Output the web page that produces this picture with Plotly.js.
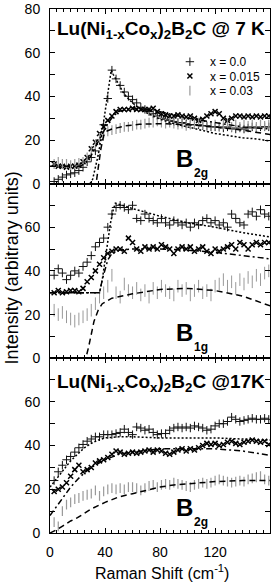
<!DOCTYPE html>
<html><head><meta charset="utf-8">
<script src="https://cdn.plot.ly/plotly-3.0.1.min.js"></script>
<style>html,body{margin:0;padding:0;background:#fff}#c{width:272px;height:586px}</style>
</head><body><div id="c"></div>
<script>
const ramanShift = [3,6,9,12,15,18,21,24,27,30,33,36,39,42,45,48,51,54,57,60,63,66,69,72,75,78,81,84,87,90,93,96,99,102,105,108,111,114,117,120,123,126,129,132,135,138,141,144,147,150,153,156,159];

// Panel 1: B2g @ 7 K
const p1_x00  = [1,2,3,4,4.5,5,6,7.5,10,12,15,20,27,39,52,48,45,42,40,38.5,37,35,34,33,32,31,30,29.5,29,28.5,28,28,27.5,27,27,27,26.5,26.5,26,26,26,25.5,26,25.5,25,25.5,25,25.5,26,25.5,26,26,26];
const p1_x015 = [9,8,8,7.5,8,8,8.5,10,12,16,19,23,26,29,31,33,34,34,34,34.5,34,34,34,34,34.5,33,32,31.5,31,31,31.5,31,30.5,31,30,29,29.5,31,32,33,32,30,29,30,31,31,30.5,31,30.5,31,30.5,31,31];
const p1_x03  = [9,10,9,9,8.5,9,9.5,10,12,15,18,21,23,24,24.5,25,25.5,26,26,26.5,27,27,27.5,28,28,28.5,28,27.5,28,27.5,27,27.5,26.5,27,27.5,28,27,26,26.5,27,26,27,27.5,26,27,26,27,26.5,27,26,27,26.5,27];
const p1_fit00_x  = [0,29,31,33,35,37,39,41,43,44.5,46,48,50,53,56,60,65,70,80,90,100,110,120,130,140,150,160];
const p1_fit00_y  = [0,0,2,7,13,20,28,36,45,52,50,47.5,45,42,39.5,37,34.5,32.5,29.5,27.5,26,24.5,23,22,21,20.5,19.5];
const p1_fit015_x = [0,22,26,30,34,38,42,46,50,55,60,70,80,90,100,110,120,130,140,150,160];
const p1_fit015_y = [8,8,9.5,13,18,23,27.5,31,33,34,34.3,34,33,31.5,30,29,28,27,26,25.5,25];
const p1_fit03_x  = [0,33.5,35,37,39,41,45,55,65,80,100,120,140,160];
const p1_fit03_y  = [0,0,7,16,22,24,25,26.5,27.2,27.5,27,26,24.5,22.5];

// Panel 2: B1g
const p2_x00  = [38,41,39,36,38,40,39,42,44,47,51,53,55,60,66,69,70,69,68,70,64,63,66,64,63,62,64,62,61,63,62,61,62,60,62,61,63,64,62,63,61,62,60,66,64,62,61,66,67,65,68,66,65];
const p2_x015 = [30,31,30,30.5,31,31,30.5,32,35,37,40,43,46,48,49,50,50,49,55,53,50,49,51,50,51,50,52,51,50,48,50,51,50,51,49,50,51,49,48,50,49,50,51,52,50,53,52,50,52,53,52,53,53];
const p2_x03  = [22,20,21,19,18,17,18,19,20,22,25,28,30,33,38,30,28,34,31,30,32,29,31,28,32,30,33,31,30,29,33,31,32,29,31,33,30,31,29,33,34,36,33,35,32,36,34,37,35,38,36,39,40];
const p2_fit00_x  = [0,36,38,40,42,44,46,47.5,60,80,100,120,140,160];
const p2_fit00_y  = [30,30,36,45,54,62,68,71,68.5,65,62,60,57.5,55.5];
const p2_fit015_x = [0,36,38,40,42,45,50,60,80,100,120,140,160];
const p2_fit015_y = [30,30,36,41,45,48,49.5,50,50,49.5,48.5,47,45.5];
const p2_fit03_x  = [0,26,28,30,32,35,38,45,60,80,100,120,140,160];
const p2_fit03_y  = [0,0,5,11,17,22,25,27.5,29.5,31.5,32,31,28.5,24];

// Panel 3: B2g @ 17 K
const p3_x00  = [24,28,31,33.5,35,37,39,40.5,42,43,44,44,45,45,45,45.5,46,47.5,46,45,48.5,48,47,47.5,46,45,45.5,45.5,47,48,48.5,48,48.5,48,49,48.5,48,47,47.5,49,50,50,51,53,52,51,51.5,52,52.5,52,52,52.5,52];
const p3_x015 = [19,20,21,23,26,29,31,28,29,30,32,33,33.5,34.5,36,37.5,37,36,36.5,37,36.5,37,37.5,38,37,38,37.5,36.5,36,37,38,38.5,37.5,38.5,38,39,40,41,40.5,41,40,40.5,41.5,42,41,40.5,41.5,42,42.5,42,41.5,42,40.5];
const p3_x03  = [5,3,10,13,14,15.5,16,17,17.5,18,19.5,17,19,20,20.5,20,20.5,20,21,21,20.5,19.5,20.5,21.5,22,21,22,22.5,22,23,22.5,22,21.5,21,22,22.5,23,22.5,23,24,24.5,24,23.5,23,23.5,24,23.5,24.5,25,25.5,26,24.5,24];
const p3_fit00_x  = [0,5,10,15,20,25,30,35,40,50,60,80,100,120,140,160];
const p3_fit00_y  = [21,25,29,33,36,39,41,42.5,43.5,44,44,43.5,43.5,43.5,43,42.5];
const p3_fit015_x = [0,5,10,15,20,25,30,40,50,60,80,100,120,140,160];
const p3_fit015_y = [8,12.5,17,21,24.5,27.5,30,33.5,36,37,38.5,38.5,38.5,37.5,35.5];
const p3_fit03_x  = [0,5,10,15,20,25,30,40,50,60,70,80,90,100,120,140,160];
const p3_fit03_y  = [0,1.5,3.5,5.5,7,9,11,14,16.5,18,19.5,21,22,22.5,23.5,24,24];

const seriesNames = ['x = 0.0', 'x = 0.015', 'x = 0.03'];

const FONT = 'Liberation Sans, Arial, Helvetica, sans-serif';
const M_CLEAN = {symbol:'cross-thin', size:6, color:'#111', line:{width:1, color:'#111'}};
const M_015   = {symbol:'x-thin', size:5, color:'#000', line:{width:1.5, color:'#000'}};
const M_03    = {symbol:'line-ns', size:7, color:'#999', line:{width:1.2, color:'#999'}};
const D_DOT = '2px,2px', D_DASHDOT = '6px,3px,2px,3px', D_DASH = '6px,4px';

const traces = [];
function panel(ax, ay, d00, d015, d03, f, withLegend, grayBig) {
  traces.push({x: ramanShift, y: d00, xaxis: ax, yaxis: ay, mode:'markers', marker: M_CLEAN,
    name: seriesNames[0], showlegend: withLegend, legend: 'legend'});
  traces.push({x: ramanShift, y: d015, xaxis: ax, yaxis: ay, mode:'markers', marker: M_015,
    name: seriesNames[1], showlegend: withLegend, legend: 'legend2'});
  const m3 = Object.assign({}, M_03, grayBig ? {size: 9, line:{width:1, color:'#999'}} : {});
  traces.push({x: ramanShift, y: d03, xaxis: ax, yaxis: ay, mode:'markers', marker: m3,
    name: seriesNames[2], showlegend: withLegend, legend: 'legend3'});
  const dashes = [D_DOT, D_DASHDOT, D_DASH];
  f.forEach((c, i) => traces.push({x: c[0], y: c[1], xaxis: ax, yaxis: ay, mode:'lines',
    line:{color:'#000', width:1.5, dash: dashes[i]}, showlegend:false, hoverinfo:'skip'}));
}
panel('x','y', p1_x00, p1_x015, p1_x03,
  [[p1_fit00_x,p1_fit00_y],[p1_fit015_x,p1_fit015_y],[p1_fit03_x,p1_fit03_y]], true, false);
panel('x2','y2', p2_x00, p2_x015, p2_x03,
  [[p2_fit00_x,p2_fit00_y],[p2_fit015_x,p2_fit015_y],[p2_fit03_x,p2_fit03_y]], false, true);
panel('x3','y3', p3_x00, p3_x015, p3_x03,
  [[p3_fit00_x,p3_fit00_y],[p3_fit015_x,p3_fit015_y],[p3_fit03_x,p3_fit03_y]], false, false);

function xax(anchor, labels) {
  return {anchor: anchor, range:[0,159.9], tickmode:'linear', tick0:0, dtick:40,
    ticks:'inside', ticklen:5, tickwidth:1, tickcolor:'#000',
    minor:{dtick:5, tick0:0, ticks:'inside', ticklen:3, tickwidth:1, tickcolor:'#000'},
    showline:true, linecolor:'#000', linewidth:1, mirror:'ticks', showgrid:false, zeroline:false,
    showticklabels: labels, ticklabelstandoff: 6,
    tickfont:{family:FONT, size:14, color:'#000'}};
}
function yax(anchor, domain, top) {
  return {anchor: anchor, domain: domain, range:[0, top], tickmode:'linear', tick0:0, dtick:20,
    ticks:'inside', ticklen:5, tickwidth:1, tickcolor:'#000',
    minor:{dtick:10, tick0:0, ticks:'inside', ticklen:5, tickwidth:1, tickcolor:'#000'},
    showline:true, linecolor:'#000', linewidth:1, mirror:'ticks', showgrid:false, zeroline:false,
    ticklabelstandoff: 6, tickfont:{family:FONT, size:14, color:'#000'}};
}

const legBase = {xanchor:'left', yanchor:'middle', bgcolor:'rgba(0,0,0,0)', borderwidth:0,
  font:{family:FONT, size:12, color:'#000'}, x:0.545};
const formula = 'Lu(Ni<sub>1-x</sub>Co<sub>x</sub>)<sub>2</sub>B<sub>2</sub>C';
const boldF = {family:FONT, size:19, color:'#000', weight:'bold'};
const bigB = {family:FONT, size:24, color:'#000', weight:'bold'};
const subB = {family:FONT, size:12, color:'#000', weight:'bold'};

const annotations = [
  {xref:'x', yref:'y', x:81, y:76.6, yanchor:'top', xanchor:'center', showarrow:false,
   text: '<b>' + formula + ' @ 7 K</b>', font: boldF},
  {xref:'x3', yref:'y3', x:81, y:74.8, yanchor:'top', xanchor:'center', showarrow:false,
   text: '<b>' + formula + ' @17K</b>', font: boldF},
  {xref:'x', yref:'y', x:97.8, y:11.7, showarrow:false, text:'<b>B</b>', font:bigB},
  {xref:'x', yref:'y', x:109.5, y:5.0, showarrow:false, text:'<b>2g</b>', font:subB},
  {xref:'x2', yref:'y2', x:97.8, y:11.7, showarrow:false, text:'<b>B</b>', font:bigB},
  {xref:'x2', yref:'y2', x:109.5, y:5.0, showarrow:false, text:'<b>1g</b>', font:subB},
  {xref:'x3', yref:'y3', x:97.8, y:11.7, showarrow:false, text:'<b>B</b>', font:bigB},
  {xref:'x3', yref:'y3', x:109.5, y:5.0, showarrow:false, text:'<b>2g</b>', font:subB},
  {xref:'paper', yref:'paper', x:-0.1727, y:0.505, textangle:-90, showarrow:false,
   xanchor:'center', yanchor:'middle', text:'Intensity (arbitrary units)',
   font:{family:FONT, size:18, color:'#000'}},
  {xref:'paper', yref:'paper', x:0.511, y:-0.0744, showarrow:false, xanchor:'center', yanchor:'middle',
   text:'Raman Shift (cm<sup>-1</sup>)', font:{family:FONT, size:16, color:'#000'}}
];

const layout = {
  width:272, height:586, margin:{l:50, r:2, t:9, b:53, pad:0},
  paper_bgcolor:'#fff', plot_bgcolor:'#fff', showlegend:true,
  font:{family:FONT, color:'#000'},
  xaxis: xax('y', false), xaxis2: xax('y2', false), xaxis3: xax('y3', true),
  yaxis: yax('x', [2/3, 1], 80), yaxis2: yax('x2', [1/3, 2/3], 79.9), yaxis3: yax('x3', [0, 1/3], 79.9),
  legend:  Object.assign({}, legBase, {y:0.8994}),
  legend2: Object.assign({}, legBase, {y:0.8721}),
  legend3: Object.assign({}, legBase, {y:0.8441}),
  annotations: annotations
};
Plotly.newPlot('c', traces, layout, {staticPlot:true, displayModeBar:false});
</script></body></html>
